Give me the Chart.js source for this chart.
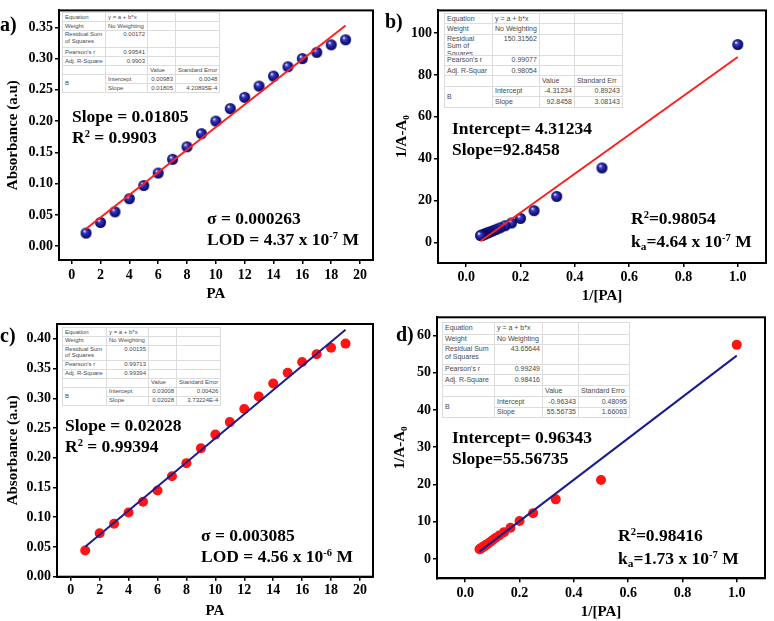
<!DOCTYPE html>
<html>
<head>
<meta charset="utf-8">
<script src="https://cdn.jsdelivr.net/npm/chart.js@4.4.0/dist/chart.umd.min.js"></script>
<style>
  body { margin: 0; background: #fff; }
  #wrap { position: relative; width: 774px; height: 621px; overflow: hidden; font-family: "Liberation Serif", "Times New Roman", serif; }
  #wrap canvas { position: absolute; }
  .lbl { position: absolute; font-weight: bold; color: #000; white-space: nowrap; }
  .panel { font-size: 20px; line-height: 20px; }
  .note { font-size: 17.5px; line-height: 21px; }
  .note sup { font-size: 0.6em; position: relative; top: -0.55em; vertical-align: baseline; }
  .note sub { font-size: 0.65em; position: relative; top: 0.3em; vertical-align: baseline; }
  table.fit { position: absolute; border-collapse: collapse; table-layout: fixed; background: #fff;
    font-family: "Liberation Sans", Arial, sans-serif; color: #4a4a4a; border: 1px solid #b0b0b0; }
  table.fit td { border: 1px solid #dcdcdc; padding: 0 2px; overflow: hidden; white-space: nowrap; line-height: 1.1; vertical-align: middle; }
  table.fit td.r { text-align: right; }
  table.fit td.wrap { white-space: normal; }
</style>
</head>
<body>
<div id="wrap"></div>
<script>
// ---- data ----
const paConc = [1, 2, 3, 4, 5, 6, 7, 8, 9, 10, 11, 12, 13, 14, 15, 16, 17, 18, 19];
const absA = [0.021, 0.038, 0.055, 0.076, 0.097, 0.117, 0.139, 0.159, 0.180, 0.200, 0.220, 0.238, 0.256, 0.272, 0.287, 0.300, 0.310, 0.322, 0.330];
const fitAX = [1, 19];
const fitAY = [0.0279, 0.3528];

const invPA = [1, 0.5, 0.3333, 0.25, 0.2, 0.1667, 0.1429, 0.125, 0.1111, 0.1, 0.0909, 0.0833, 0.0769, 0.0714, 0.0667, 0.0625, 0.0588, 0.0556, 0.0526];
const recipB = [94.5, 35.6, 22.0, 15.2, 11.5, 9.3, 8.0, 7.0, 6.3, 5.7, 5.2, 4.8, 4.5, 4.2, 3.9, 3.7, 3.5, 3.4, 3.3];
const fitBX = [0.0526, 1];
const fitBY = [0.57, 88.53];

const absC = [0.044, 0.073, 0.089, 0.108, 0.126, 0.145, 0.169, 0.191, 0.216, 0.239, 0.260, 0.282, 0.303, 0.325, 0.343, 0.361, 0.374, 0.385, 0.392];
const fitCX = [1, 19];
const fitCY = [0.0504, 0.4154];

const recipD = [57.5, 21.2, 16.0, 12.3, 10.2, 8.4, 7.2, 6.3, 5.6, 5.0, 4.5, 4.1, 3.8, 3.5, 3.3, 3.1, 2.9, 2.7, 2.6];
const fitDX = [0.0526, 1];
const fitDY = [1.96, 54.60];

const xTicksPA = [0, 2, 4, 6, 8, 10, 12, 14, 16, 18, 20];
const xTicksInv = [0, 0.2, 0.4, 0.6, 0.8, 1.0];
const yTicksA = [0, 0.05, 0.10, 0.15, 0.20, 0.25, 0.30, 0.35];
const yTicksB = [0, 20, 40, 60, 80, 100];
const yTicksC = [0, 0.05, 0.10, 0.15, 0.20, 0.25, 0.30, 0.35, 0.40];
const yTicksD = [0, 10, 20, 30, 40, 50, 60];

// fit report tables (Origin style)
const tableA = { rss: '0.00172', r: '0.99541', adj: '0.9903', icpt: ['0.00983', '0.0048'], slope: ['0.01805', '4.20895E-4'] };
const tableB = { rss: '150.31562', r: '0.99077', adj: '0.98054', icpt: ['-4.31234', '0.89243'], slope: ['92.8458', '3.08143'] };
const tableC = { rss: '0.00135', r: '0.99713', adj: '0.99394', icpt: ['0.03008', '0.00426'], slope: ['0.02028', '3.73224E-4'] };
const tableD = { rss: '43.65644', r: '0.99249', adj: '0.98416', icpt: ['-0.96343', '0.48095'], slope: ['55.56735', '1.66063'] };

const wrap = document.getElementById('wrap');
const FONT = "'Liberation Serif', 'Times New Roman', serif";

// shiny navy ball used as marker in a) and b)
function sphere(r) {
  const c = document.createElement('canvas');
  const s = Math.ceil(r * 2) + 2;
  c.width = c.height = s;
  const g = c.getContext('2d');
  const cx = s / 2, cy = s / 2;
  const grad = g.createRadialGradient(cx - r * 0.35, cy - r * 0.4, r * 0.05, cx, cy, r);
  grad.addColorStop(0, '#f0f0ff');
  grad.addColorStop(0.3, '#3a3ac0');
  grad.addColorStop(0.75, '#12128a');
  grad.addColorStop(1, '#06064e');
  g.fillStyle = grad;
  g.beginPath();
  g.arc(cx, cy, r, 0, Math.PI * 2);
  g.fill();
  return c;
}

const boxPlugin = {
  id: 'box',
  afterDraw(chart) {
    const a = chart.chartArea, ctx = chart.ctx;
    ctx.save();
    ctx.strokeStyle = '#000';
    ctx.lineWidth = 2;
    ctx.strokeRect(a.left, a.top, a.right - a.left, a.bottom - a.top);
    ctx.restore();
  }
};

function pts(xs, ys) {
  return xs.map((x, i) => ({ x: x, y: ys[i] }));
}

function makePanel(p) {
  const canvas = document.createElement('canvas');
  canvas.width = p.w;
  canvas.height = p.h;
  canvas.style.left = p.left + 'px';
  canvas.style.top = p.top + 'px';
  wrap.appendChild(canvas);

  const tickFont = { family: FONT, size: 14, weight: 'bold' };
  const titleFont = { family: FONT, size: 15, weight: 'bold' };

  new Chart(canvas, {
    type: 'scatter',
    data: {
      datasets: [
        {
          data: pts(p.fitX, p.fitY),
          showLine: true,
          borderColor: p.lineColor,
          borderWidth: 2,
          pointRadius: 0,
          order: 0
        },
        {
          data: pts(p.xs, p.ys),
          pointStyle: p.marker,
          pointRadius: 5,
          backgroundColor: p.dotColor,
          borderWidth: 0,
          order: 1
        }
      ]
    },
    options: {
      responsive: false,
      animation: false,
      layout: { padding: { top: p.padTop, right: p.padRight, left: 0, bottom: 0 } },
      plugins: { legend: { display: false }, tooltip: { enabled: false } },
      scales: {
        x: {
          type: 'linear',
          min: p.xMin, max: p.xMax,
          afterBuildTicks: s => { s.ticks = p.xTicks.map(v => ({ value: v })); },
          afterFit: s => { s.height = p.xH; },
          ticks: { color: '#000', font: tickFont, padding: p.xPad, autoSkip: false, maxRotation: 0,
                   callback: v => v.toFixed(p.xDec) },
          grid: { drawOnChartArea: false, drawTicks: true, tickLength: 4, color: '#000', lineWidth: 1.5 },
          border: { display: true, color: '#000', width: 2 },
          title: { display: true, text: p.xTitle, color: '#000', font: titleFont, padding: { top: 0, bottom: 0 } }
        },
        y: {
          type: 'linear',
          min: p.yMin, max: p.yMax,
          afterBuildTicks: s => { s.ticks = p.yTicks.map(v => ({ value: v })); },
          afterFit: s => { s.width = p.yW; },
          ticks: { color: '#000', font: tickFont, padding: 2, autoSkip: false,
                   callback: v => v.toFixed(p.yDec) },
          grid: { drawOnChartArea: false, drawTicks: true, tickLength: 4, color: '#000', lineWidth: 1.5 },
          border: { display: true, color: '#000', width: 2 },
          title: { display: true, text: p.yTitle, color: '#000', font: titleFont, padding: { top: p.yTitlePad, bottom: 0 } }
        }
      }
    },
    plugins: [boxPlugin]
  });
}

function addText(cls, left, top, html) {
  const d = document.createElement('div');
  d.className = 'lbl ' + cls;
  d.style.left = left + 'px';
  d.style.top = top + 'px';
  d.innerHTML = html;
  wrap.appendChild(d);
}

function addTable(t, left, top, fontSize, cols, rows, labels) {
  const tb = document.createElement('table');
  tb.className = 'fit';
  tb.style.left = left + 'px';
  tb.style.top = top + 'px';
  tb.style.fontSize = fontSize + 'px';
  let h = '<colgroup>' + cols.map(w => '<col style="width:' + w + 'px">').join('') + '</colgroup>';
  const tr = i => '<tr style="height:' + rows[i] + 'px">';
  h += tr(0) + '<td>Equation</td><td>y = a + b*x</td><td></td><td></td></tr>';
  h += tr(1) + '<td>Weight</td><td>No Weighting</td><td></td><td></td></tr>';
  h += tr(2) + '<td class="wrap"><div style="height:' + (rows[2] - 1) + 'px;overflow:hidden">' + labels.rss + '</div></td><td class="r" style="vertical-align:top">' + t.rss + '</td><td></td><td></td></tr>';
  h += tr(3) + '<td>Pearson\'s r</td><td class="r">' + t.r + '</td><td></td><td></td></tr>';
  h += tr(4) + '<td>' + labels.adj + '</td><td class="r">' + t.adj + '</td><td></td><td></td></tr>';
  h += tr(5) + '<td></td><td></td><td>Value</td><td>' + labels.err + '</td></tr>';
  h += tr(6) + '<td rowspan="2">B</td><td>Intercept</td><td class="r">' + t.icpt[0] + '</td><td class="r">' + t.icpt[1] + '</td></tr>';
  h += tr(7) + '<td>Slope</td><td class="r">' + t.slope[0] + '</td><td class="r">' + t.slope[1] + '</td></tr>';
  tb.innerHTML = h;
  wrap.appendChild(tb);
}

const navyBall = sphere(5.5);

// a)
makePanel({
  left: 0, top: 0, w: 387, h: 303, padTop: 8, padRight: 14, yW: 59, xH: 43, xPad: 3,
  xs: paConc, ys: absA, fitX: fitAX, fitY: fitAY,
  marker: navyBall, dotColor: '#12128a', lineColor: '#ff1f1f',
  xMin: -0.88, xMax: 20.9, yMin: -0.022, yMax: 0.377,
  xTicks: xTicksPA, yTicks: yTicksA, xDec: 0, yDec: 2,
  xTitle: 'PA', yTitle: 'Absorbance (a.u)', yTitlePad: 4
});
// b)
makePanel({
  left: 387, top: 0, w: 387, h: 305, padTop: 7, padRight: 8, yW: 51, xH: 42, xPad: 2,
  xs: invPA, ys: recipB, fitX: fitBX, fitY: fitBY,
  marker: navyBall, dotColor: '#12128a', lineColor: '#ff1f1f',
  xMin: -0.104, xMax: 1.104, yMin: -9.8, yMax: 110.8,
  xTicks: xTicksInv, yTicks: yTicksB, xDec: 1, yDec: 0,
  xTitle: '1/[PA]', yTitle: '1/A-A\u2080', yTitlePad: 6
});
// c)
makePanel({
  left: 0, top: 300, w: 387, h: 320, padTop: 24, padRight: 14, yW: 57, xH: 43.3, xPad: 1,
  xs: paConc, ys: absC, fitX: fitCX, fitY: fitCY,
  marker: 'circle', dotColor: '#ff1414', lineColor: '#1c1c8c',
  xMin: -0.95, xMax: 20.9, yMin: 0, yMax: 0.425,
  xTicks: xTicksPA, yTicks: yTicksC, xDec: 0, yDec: 2,
  xTitle: 'PA', yTitle: 'Absorbance (a.u)', yTitlePad: 4
});
// d)
makePanel({
  left: 387, top: 300, w: 387, h: 321, padTop: 17.3, padRight: 9, yW: 50, xH: 42.7, xPad: 3,
  xs: invPA, ys: recipD, fitX: fitDX, fitY: fitDY,
  marker: 'circle', dotColor: '#ff1414', lineColor: '#1c1c8c',
  xMin: -0.104, xMax: 1.104, yMin: -5.2, yMax: 64.9,
  xTicks: xTicksInv, yTicks: yTicksD, xDec: 1, yDec: 0,
  xTitle: '1/[PA]', yTitle: '1/A-A\u2080', yTitlePad: 4
});

// panel letters
addText('panel', 0, 14, 'a)');
addText('panel', 385, 11, 'b)');
addText('panel', 0, 325, 'c)');
addText('panel', 396, 324, 'd)');

// fit tables
addTable(tableA, 62, 12, 6, [43, 42, 28, 43], [9, 9, 17, 9, 9, 9, 9, 9],
  { rss: 'Residual Sum<br>of Squares', adj: 'Adj. R-Square', err: 'Standard Error' });
addTable(tableB, 444, 13, 7, [48, 45, 35, 48], [10, 10.5, 21, 10.5, 10, 10.5, 10.5, 10.5],
  { rss: 'Residual<br>Sum of<br>Squares', adj: 'Adj. R-Squar', err: 'Standard Err' });
addTable(tableC, 62, 327, 6, [44, 42, 28, 44], [9, 8.5, 15, 9, 9, 9, 9, 9],
  { rss: 'Residual Sum<br>of Squares', adj: 'Adj. R-Square', err: 'Standard Error' });
addTable(tableD, 442, 322, 7, [52, 48, 36, 51], [11.5, 10.5, 19.5, 10.5, 11, 10.5, 11, 10.5],
  { rss: 'Residual Sum<br>of Squares', adj: 'Adj. R-Square', err: 'Standard Erro' });

// annotations
addText('note', 72, 106, 'Slope = 0.01805<br>R<sup>2</sup> = 0.9903');
addText('note', 207, 208, '\u03c3 = 0.000263<br>LOD = 4.37 x 10<sup>-7</sup> M');
addText('note', 452, 118, 'Intercept= 4.31234<br>Slope=92.8458');
addText('note', 631, 208, 'R<sup>2</sup>=0.98054<br>k<sub>a</sub>=4.64 x 10<sup>-7</sup> M');
addText('note', 65, 415, 'Slope = 0.02028<br>R<sup>2</sup> = 0.99394');
addText('note', 201, 525, '\u03c3 = 0.003085<br>LOD = 4.56 x 10<sup>-6</sup> M');
addText('note', 452, 427, 'Intercept= 0.96343<br>Slope=55.56735');
addText('note', 618, 525, 'R<sup>2</sup>=0.98416<br>k<sub>a</sub>=1.73 x 10<sup>-7</sup> M');
</script>
</body>
</html>
